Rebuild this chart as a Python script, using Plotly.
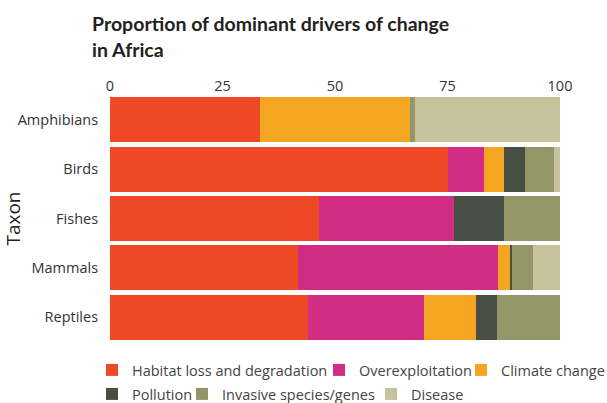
import plotly.graph_objects as go

taxa = ["Amphibians", "Birds", "Fishes", "Mammals", "Reptiles"]
drivers = ["Habitat loss and degradation", "Overexploitation", "Climate change",
           "Pollution", "Invasive species/genes", "Disease"]
colors = ["#EE4824", "#D22D85", "#F4A622", "#474E44", "#949569", "#C6C29C"]

habitat = [33.3, 75.1, 46.4, 41.8, 44.0]
overexploitation = [0.0, 8.0, 30.0, 44.4, 25.8]
climate = [33.4, 4.5, 0.0, 2.7, 11.5]
pollution = [0.0, 4.6, 11.2, 0.4, 4.7]
invasive = [1.1, 6.5, 12.4, 4.7, 14.0]
disease = [32.2, 1.3, 0.0, 6.0, 0.0]

series = [habitat, overexploitation, climate, pollution, invasive, disease]

W, H = 607, 403
FONT = "Open Sans, sans-serif"
# legend slot positions (px, container): text start x, row centre y
legend_pos = [(128, 370), (355, 370), (497, 370), (128, 394), (218, 394), (407, 394)]
legend_ids = ["legend", "legend2", "legend3", "legend4", "legend5", "legend6"]

fig = go.Figure()
for name, vals, col, lid in zip(drivers, series, colors, legend_ids):
    fig.add_trace(go.Bar(
        y=taxa, x=vals, name=name, orientation="h", legend=lid,
        showlegend=True,
        marker=dict(color=col, line=dict(width=0)),
        hovertemplate="%{y}: %{x}<extra>" + name + "</extra>",
    ))

legends = {}
for lid, (tx, ty) in zip(legend_ids, legend_pos):
    legends[lid] = dict(
        orientation="h", xref="container", yref="container",
        x=(tx - 36) / W, xanchor="left", y=1 - ty / H, yanchor="middle",
        font=dict(size=14.5, color="#444444", family=FONT),
        bgcolor="rgba(0,0,0,0)", borderwidth=0,
    )

fig.update_layout(
    showlegend=True,
    barmode="stack",
    bargap=0.09,
    width=W, height=H,
    margin=dict(l=110, r=47, t=95, b=61, autoexpand=False),
    paper_bgcolor="white", plot_bgcolor="white",
    font=dict(family=FONT, color="#333333", size=14.5),
    title=dict(
        text="<b>Proportion of dominant drivers of change<br>in Africa</b>",
        x=92 / W, xanchor="left", xref="container",
        y=0.922, yanchor="top", yref="container",
        font=dict(size=19.5, color="#231F20", family="Lato, sans-serif"),
    ),
    xaxis=dict(
        side="top", range=[0, 100], tickvals=[0, 25, 50, 75, 100],
        showgrid=False, zeroline=False, showline=False, ticks="",
        tickfont=dict(size=14.5, color="#333333"),
    ),
    yaxis=dict(
        autorange="reversed", showgrid=False, zeroline=False, showline=False,
        ticks="outside", ticklen=8, tickcolor="rgba(0,0,0,0)",
        title=dict(text="Taxon", font=dict(size=19, color="#231F20"), standoff=8),
        tickfont=dict(size=14.5, color="#333333"),
    ),
    **legends,
)

fig.write_html("out.html", config={"displayModeBar": False},
               post_script="document.body.style.margin='0px';")
